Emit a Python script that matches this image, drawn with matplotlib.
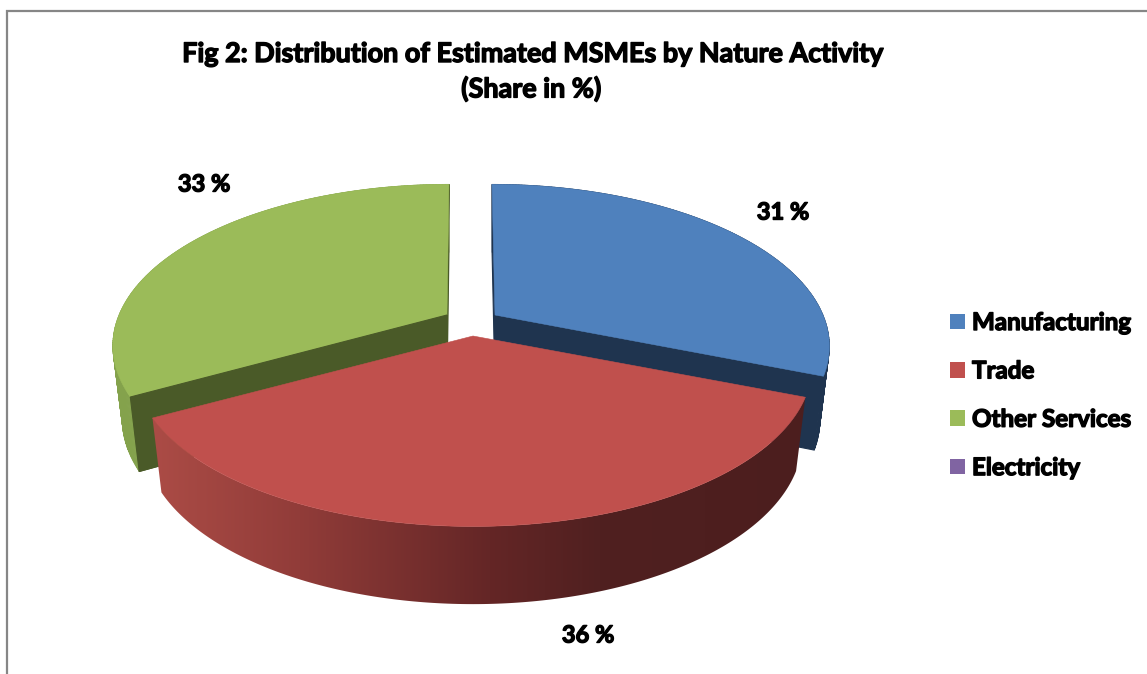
import numpy as np
import matplotlib
matplotlib.use("Agg")
import matplotlib.pyplot as plt
from matplotlib.patches import Polygon, Patch
import matplotlib.patheffects as pe

title_lines = ["Fig 2: Distribution of Estimated MSMEs by Nature Activity", "(Share in %)"]
categories = ["Manufacturing", "Trade", "Other Services", "Electricity"]
shares = [31, 36, 33, 0]
share_labels = ["31 %", "36 %", "33 %"]
top_colors = ["#4F81BD", "#C0504D", "#9BBB59", "#8064A2"]
wall_colors = ["#1F344F", "#4E2020", "#4A5A28"]
rim_colors = ["#1F344F", None, "#84A24C"]

# exploded slice apex (px), radius (px), lean of the disc towards the vanishing point (px)
apex = [(495, 315), (473, 336), (447, 315)]
radius = [328, 333, 328]
lean = [3, 0, -2]
label_pos = [(783, 212), (588, 635), (204, 184)]

B, K = 155.0, 0.186     # perspective of the disc
DEPTH, SX, SY = 72.0, 0.972, 1.03

fig = plt.figure(figsize=(11.47, 6.74), dpi=100, facecolor="white")
ax = fig.add_axes([0, 0, 1, 1])
ax.axis("off")


def top_pt(i, deg):
    a = np.radians(deg)
    u, v = np.sin(a), np.cos(a)
    s = 1 / (1 + K * v)
    return apex[i][0] + radius[i] * u * s - lean[i] * v, apex[i][1] - B * v * s


def low_pt(i, x, y):
    return apex[i][0] + SX * (x - apex[i][0]), apex[i][1] + DEPTH + SY * (y - apex[i][1])


def red_side(x):
    xs = [150, 300, 490, 600, 810]
    rs = [172, 145, 100, 80, 76]
    gs = [76, 60, 38, 32, 30]
    bs = [70, 57, 38, 32, 30]
    return np.stack([np.interp(x, xs, rs), np.interp(x, xs, gs), np.interp(x, xs, bs)], axis=-1) / 255


cum = np.concatenate([[0], np.cumsum(shares)]) * 3.6
# back slices first, the front slice (Trade) last
for i in [0, 2, 1]:
    a0, a1 = cum[i], cum[i + 1]
    angles = np.linspace(a0, a1, 181)
    top = np.array([top_pt(i, d) for d in angles])
    low = np.array([low_pt(i, x, y) for x, y in top])
    c = np.array(apex[i], float)
    cl = np.array(low_pt(i, *c))
    if i != 1:
        # cut faces and outer rim
        ax.add_patch(Polygon([c, top[0], low[0], cl], fc=wall_colors[i], ec=wall_colors[i], lw=0.8, zorder=1 + i * 0.1))
        for j in range(len(angles) - 1):
            ax.add_patch(Polygon([top[j], top[j + 1], low[j + 1], low[j]], fc=rim_colors[i], ec=rim_colors[i],
                                 lw=0.5, zorder=1 + i * 0.1))
        ax.add_patch(Polygon([c, top[-1], low[-1], cl], fc=wall_colors[i], ec=wall_colors[i], lw=0.8, zorder=1.5))
    else:
        xs = np.linspace(140, 820, 681)
        img = red_side(xs)[None, :, :]
        im = ax.imshow(img, extent=(140, 820, 620, 380), aspect="auto", zorder=2, interpolation="bilinear")
        clip = Polygon(np.vstack([top, low[::-1]]), closed=True, transform=ax.transData, fc="none", ec="none")
        ax.add_patch(clip)
        im.set_clip_path(clip)
    ax.add_patch(Polygon(np.vstack([[c], top]), fc=top_colors[i], ec=top_colors[i], lw=0.4, zorder=1.6 if i != 1 else 2.5))

# green cut face at the 241 degree edge is in front of its rim
i = 2
t0 = np.array(top_pt(i, cum[2]))
ax.add_patch(Polygon([np.array(apex[i], float), t0, low_pt(i, *t0), low_pt(i, *apex[i])],
                     fc=wall_colors[i], ec=wall_colors[i], lw=0.8, zorder=1.7))

ax.set_xlim(0, 1147)
ax.set_ylim(674, 0)

font = ["Lato", "DejaVu Sans"]
stroke = [pe.withStroke(linewidth=1.0, foreground="black")]
for line, y in zip(title_lines, [54, 89]):
    ax.text(531, y, line, ha="center", va="center", family=font, fontweight="bold",
            fontsize=19.4, color="black", path_effects=stroke, zorder=5)
for lab, (x, y) in zip(share_labels, label_pos):
    ax.text(x, y, lab, ha="center", va="center", family=font, fontweight="bold",
            fontsize=17, color="black", path_effects=stroke, zorder=5)

handles = [Patch(fc=c, ec="none", label=n) for c, n in zip(top_colors, categories)]
leg = ax.legend(handles=handles, loc="upper left", bbox_to_anchor=(950 / 1147, 1 - 311 / 674),
                frameon=False, prop={"family": "Lato", "weight": "bold", "size": 17.4},
                handlelength=0.62, handleheight=0.62, handletextpad=0.29,
                labelspacing=1.05, borderpad=0, borderaxespad=0)
leg.set_zorder(5)
for t in leg.get_texts():
    t.set_path_effects(stroke)

ax.plot([7, 7, 1147], [674, 11, 11], color="#868686", lw=1.6, solid_joinstyle="miter", clip_on=False, zorder=6)

fig.savefig("out.png", dpi=100, facecolor="white")
